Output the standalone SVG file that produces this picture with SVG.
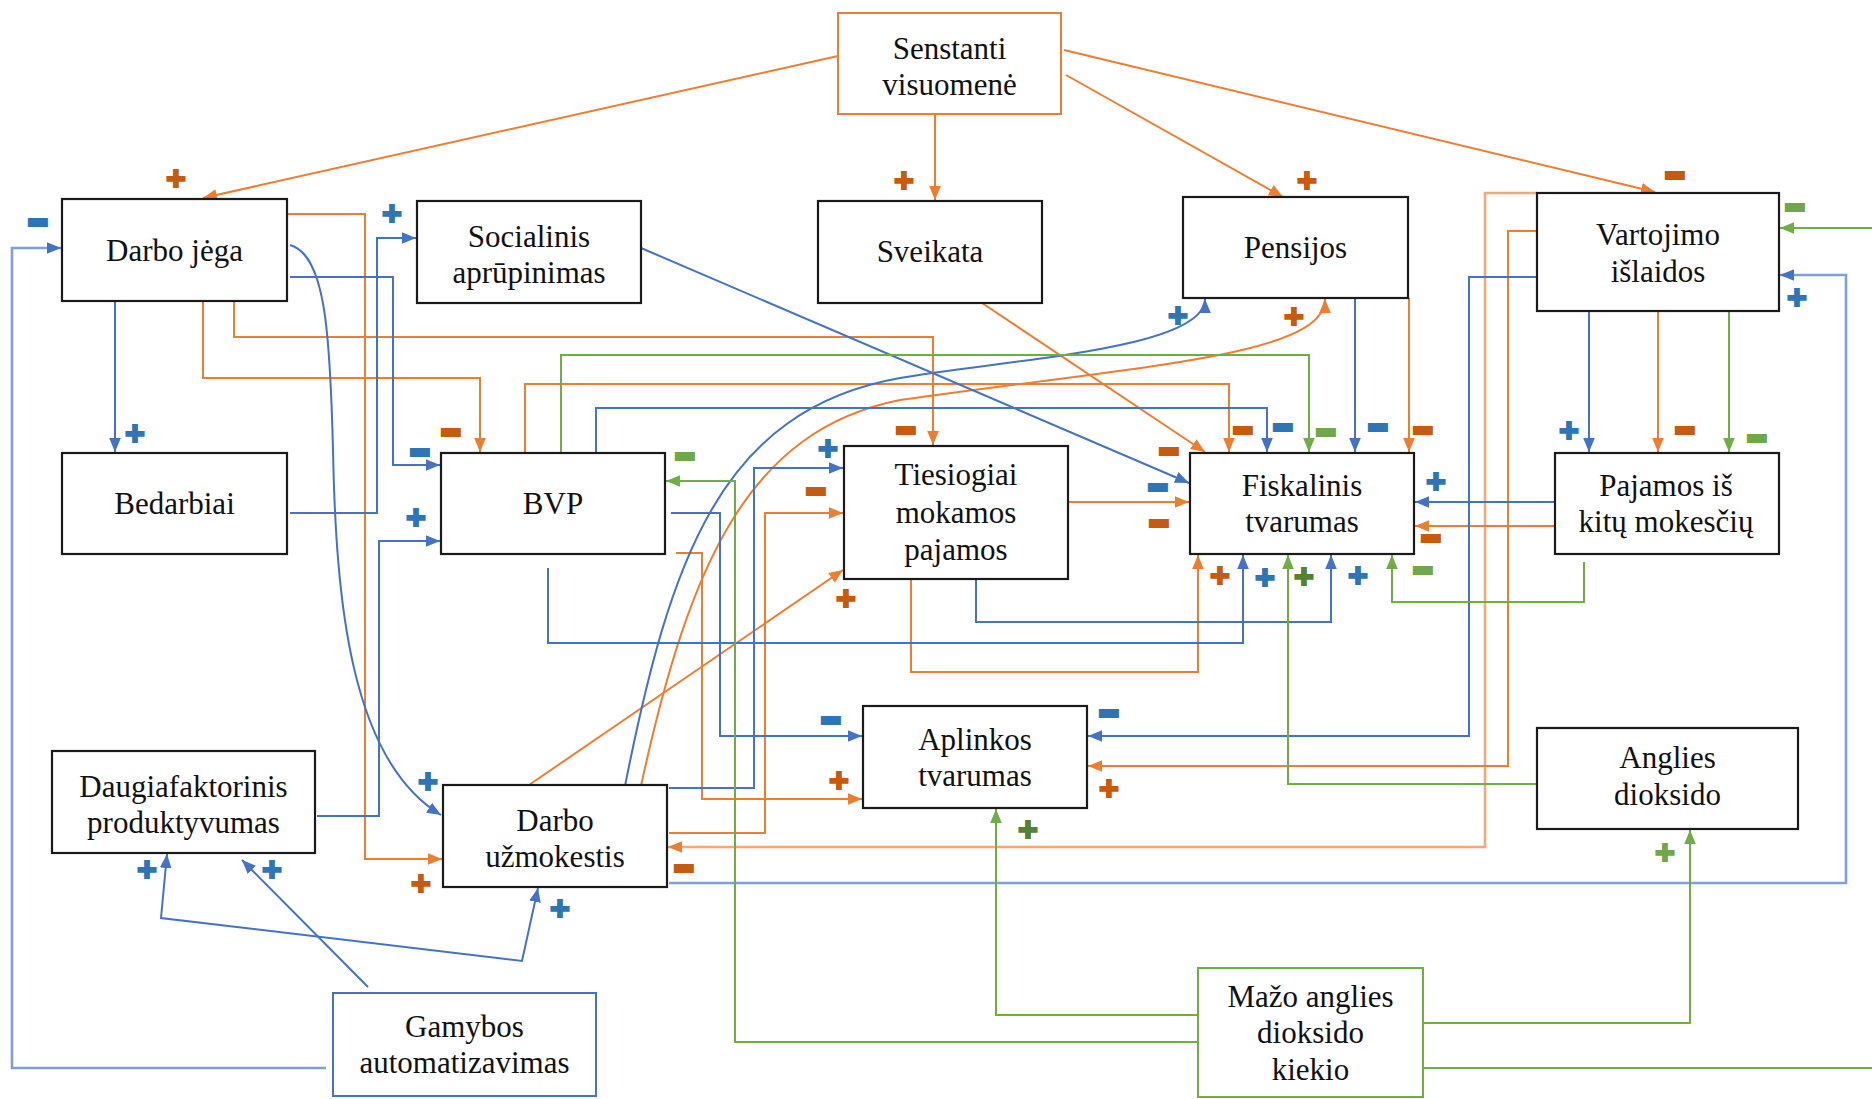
<svg xmlns="http://www.w3.org/2000/svg" width="1872" height="1099" viewBox="0 0 1872 1099">
  <style>
    .box { fill: #ffffff; stroke: #1a1a1a; stroke-width: 2.2; }
    .box-o { fill: #ffffff; stroke: #ED7D31; stroke-width: 2; }
    .box-b { fill: #ffffff; stroke: #4472C4; stroke-width: 2; }
    .box-g { fill: #ffffff; stroke: #70AD47; stroke-width: 2; }
    .lbl { font-family: "Liberation Serif", "Times New Roman", serif; font-size: 31px; fill: #111111; text-anchor: middle; }
    .c { fill: none; stroke-width: 2; stroke-linejoin: miter; }
    .o { stroke: #ED7D31; marker-end: url(#ah-o); }
    .o2 { stroke: #F4A777; stroke-width: 2.6; marker-end: url(#ah-o); }
    .b { stroke: #4472C4; marker-end: url(#ah-b); }
    .b2 { stroke: #7F9FD8; stroke-width: 2.6; marker-end: url(#ah-b); }
    .g { stroke: #70AD47; marker-end: url(#ah-g); }
    .sg { font-family: "Liberation Sans", Arial, sans-serif; font-weight: bold; text-anchor: middle; dominant-baseline: central; }
    .p { font-size: 34px; stroke-width: 2; }
    .m { font-size: 28px; stroke-width: 6; }
    .so { fill: #C55A11; stroke: #C55A11; }
    .sb { fill: #2E75B6; stroke: #2E75B6; }
    .sgr { fill: #548235; stroke: #548235; }
    .sgl { fill: #6FA84A; stroke: #6FA84A; }
  </style>
  <defs>
    <marker id="ah-o" viewBox="0 0 12 10" refX="12" refY="5" markerWidth="14" markerHeight="12" markerUnits="userSpaceOnUse" orient="auto-start-reverse">
      <path d="M0,0 L12,5 L0,10 z" fill="#ED7D31"/>
    </marker>
    <marker id="ah-b" viewBox="0 0 12 10" refX="12" refY="5" markerWidth="14" markerHeight="12" markerUnits="userSpaceOnUse" orient="auto-start-reverse">
      <path d="M0,0 L12,5 L0,10 z" fill="#4472C4"/>
    </marker>
    <marker id="ah-g" viewBox="0 0 12 10" refX="12" refY="5" markerWidth="14" markerHeight="12" markerUnits="userSpaceOnUse" orient="auto-start-reverse">
      <path d="M0,0 L12,5 L0,10 z" fill="#70AD47"/>
    </marker>
  </defs>

  <rect width="1872" height="1099" fill="#ffffff"/>

  <!-- connectors -->
  <g id="connectors">
    <!-- orange links -->
    <path class="c o" d="M838,56 L203,198"/>
    <path class="c o" d="M935,114 V200"/>
    <path class="c o" d="M1066,75 L1283,197"/>
    <path class="c o" d="M1064,50 L1655,192"/>
    <path class="c o" d="M203,301 V378 H480 V452"/>
    <path class="c o" d="M234,301 V337 H933 V445"/>
    <path class="c o" d="M283,214 H365 V859 H442"/>
    <path class="c o" d="M982,303 L1205,452"/>
    <path class="c o" d="M641,786 C690,560 750,430 900,400 C1150,365 1325,355 1325,299"/>
    <path class="c o" d="M525,452 V384 H1229 V452"/>
    <path class="c o" d="M1067,502 H1189"/>
    <path class="c o" d="M911,579 V672 H1198 V555"/>
    <path class="c o" d="M676,553 H702 V799 H862"/>
    <path class="c o" d="M669,833 H765 V513 H843"/>
    <path class="c o" d="M529,785 L843,570"/>
    <path class="c o2" d="M1537,193 H1485 V847 H668"/>
    <path class="c o" d="M1540,231 H1508 V766 H1088"/>
    <path class="c o" d="M1409,298 V452"/>
    <path class="c o" d="M1658,311 V452"/>
    <path class="c o" d="M1555,526 H1415"/>

    <!-- blue links -->
    <path class="c b" d="M115,301 V452"/>
    <path class="c b" d="M290,277 H393 V465 H440"/>
    <path class="c b" d="M290,245 C325,255 330,330 333,450 C336,600 350,760 441,815"/>
    <path class="c b" d="M290,513 H377 V238 H416"/>
    <path class="c b" d="M317,816 H379 V541 H440"/>
    <path class="c b" d="M641,248 L1189,483"/>
    <path class="c b" d="M625,786 C670,560 720,410 900,378 C1000,360 1205,350 1205,299"/>
    <path class="c b" d="M596,452 V408 H1267 V452"/>
    <path class="c b" d="M1355,298 V452"/>
    <path class="c b" d="M1589,311 V452"/>
    <path class="c b" d="M1555,502 H1415"/>
    <path class="c b" d="M976,573 V622 H1331 V555"/>
    <path class="c b" d="M548,568 V643 H1243 V555"/>
    <path class="c b" d="M671,513 H720 V736 H862"/>
    <path class="c b" d="M669,788 H754 V468 H843"/>
    <path class="c b" d="M1540,277 H1469 V736 H1088"/>
    <path class="c b2" d="M669,883 H1846 V275 H1780"/>
    <path class="c b2" d="M326,1068 H12 V248 H61"/>
    <path class="c b" d="M368,987 L242,860"/>
    <path class="c b" style="marker-start: url(#ah-b);" d="M167,854 L161,918 L522,961 L538,888"/>

    <!-- green links -->
    <path class="c g" d="M561,452 V355 H1309 V452"/>
    <path class="c g" d="M1729,311 V452"/>
    <path class="c g" d="M1584,562 V602 H1392 V555"/>
    <path class="c g" d="M1537,784 H1288 V555"/>
    <path class="c g" d="M1198,1042 H735 V481 H666"/>
    <path class="c g" d="M1424,1068 H1890 V228 H1780"/>
    <path class="c g" d="M1198,1015 H996 V809"/>
    <path class="c g" d="M1423,1023 H1690 V830"/>
  </g>

  <!-- polarity signs -->
  <g id="signs">
    <text class="sg p so" x="176" y="178">+</text>
    <text class="sg p so" x="904" y="180">+</text>
    <text class="sg p so" x="1307" y="180">+</text>
    <text class="sg p so" x="1294" y="316">+</text>
    <text class="sg p so" x="421" y="883">+</text>
    <text class="sg p so" x="839" y="780">+</text>
    <text class="sg p so" x="1109" y="788">+</text>
    <text class="sg p so" x="1220" y="575">+</text>
    <text class="sg p so" x="846" y="598">+</text>

    <text class="sg m so" x="1675" y="175">−</text>
    <text class="sg m so" x="451" y="432">−</text>
    <text class="sg m so" x="906" y="430">−</text>
    <text class="sg m so" x="1169" y="451">−</text>
    <text class="sg m so" x="1243" y="430">−</text>
    <text class="sg m so" x="1423" y="430">−</text>
    <text class="sg m so" x="1685" y="430">−</text>
    <text class="sg m so" x="1431" y="538">−</text>
    <text class="sg m so" x="1159" y="523">−</text>
    <text class="sg m so" x="816" y="491">−</text>
    <text class="sg m so" x="684" y="868">−</text>

    <text class="sg p sb" x="135" y="433">+</text>
    <text class="sg p sb" x="392" y="213">+</text>
    <text class="sg p sb" x="416" y="517">+</text>
    <text class="sg p sb" x="428" y="781">+</text>
    <text class="sg p sb" x="1178" y="315">+</text>
    <text class="sg p sb" x="828" y="448">+</text>
    <text class="sg p sb" x="1569" y="430">+</text>
    <text class="sg p sb" x="1436" y="481">+</text>
    <text class="sg p sb" x="1358" y="575">+</text>
    <text class="sg p sb" x="1265" y="577">+</text>
    <text class="sg p sb" x="1797" y="297">+</text>
    <text class="sg p sb" x="272" y="869">+</text>
    <text class="sg p sb" x="147" y="869">+</text>
    <text class="sg p sb" x="560" y="908">+</text>

    <text class="sg m sb" x="420" y="452">−</text>
    <text class="sg m sb" x="38" y="222">−</text>
    <text class="sg m sb" x="1158" y="487">−</text>
    <text class="sg m sb" x="1283" y="427">−</text>
    <text class="sg m sb" x="1378" y="427">−</text>
    <text class="sg m sb" x="831" y="720">−</text>
    <text class="sg m sb" x="1109" y="713">−</text>

    <text class="sg p sgr" x="1304" y="576">+</text>
    <text class="sg p sgr" x="1028" y="829">+</text>
    <text class="sg p sgl" x="1665" y="852">+</text>

    <text class="sg m sgl" x="685" y="456">−</text>
    <text class="sg m sgl" x="1326" y="432">−</text>
    <text class="sg m sgl" x="1757" y="438">−</text>
    <text class="sg m sgl" x="1423" y="570">−</text>
    <text class="sg m sgl" x="1795" y="207">−</text>
  </g>

  <!-- nodes -->
  <g id="n-senstanti">
    <rect class="box-o" x="838" y="13" width="223" height="101"/>
    <text class="lbl" x="949.5" y="59">Senstanti</text>
    <text class="lbl" x="949.5" y="95">visuomenė</text>
  </g>
  <g id="n-darbo-jega">
    <rect class="box" x="62" y="199" width="225" height="102"/>
    <text class="lbl" x="174.5" y="260.5">Darbo jėga</text>
  </g>
  <g id="n-socialinis">
    <rect class="box" x="417" y="201" width="224" height="102"/>
    <text class="lbl" x="529" y="247">Socialinis</text>
    <text class="lbl" x="529" y="283">aprūpinimas</text>
  </g>
  <g id="n-sveikata">
    <rect class="box" x="818" y="201" width="224" height="102"/>
    <text class="lbl" x="930" y="262">Sveikata</text>
  </g>
  <g id="n-pensijos">
    <rect class="box" x="1183" y="197" width="225" height="101"/>
    <text class="lbl" x="1295.5" y="258">Pensijos</text>
  </g>
  <g id="n-vartojimo">
    <rect class="box" x="1537" y="193" width="242" height="118"/>
    <text class="lbl" x="1658" y="245">Vartojimo</text>
    <text class="lbl" x="1658" y="282">išlaidos</text>
  </g>
  <g id="n-bedarbiai">
    <rect class="box" x="62" y="453" width="225" height="101"/>
    <text class="lbl" x="174.5" y="514">Bedarbiai</text>
  </g>
  <g id="n-bvp">
    <rect class="box" x="441" y="453" width="224" height="101"/>
    <text class="lbl" x="553" y="514">BVP</text>
  </g>
  <g id="n-tiesiogiai">
    <rect class="box" x="844" y="446" width="224" height="133"/>
    <text class="lbl" x="956" y="485">Tiesiogiai</text>
    <text class="lbl" x="956" y="522.5">mokamos</text>
    <text class="lbl" x="956" y="560">pajamos</text>
  </g>
  <g id="n-fiskalinis">
    <rect class="box" x="1190" y="453" width="224" height="101"/>
    <text class="lbl" x="1302" y="496">Fiskalinis</text>
    <text class="lbl" x="1302" y="532">tvarumas</text>
  </g>
  <g id="n-pajamos">
    <rect class="box" x="1555" y="453" width="224" height="101"/>
    <text class="lbl" x="1666" y="496">Pajamos iš</text>
    <text class="lbl" x="1666" y="532">kitų mokesčių</text>
  </g>
  <g id="n-aplinkos">
    <rect class="box" x="863" y="706" width="224" height="102"/>
    <text class="lbl" x="975" y="750">Aplinkos</text>
    <text class="lbl" x="975" y="786">tvarumas</text>
  </g>
  <g id="n-anglies">
    <rect class="box" x="1537" y="728" width="261" height="101"/>
    <text class="lbl" x="1667.5" y="768">Anglies</text>
    <text class="lbl" x="1667.5" y="805">dioksido</text>
  </g>
  <g id="n-daugiafaktorinis">
    <rect class="box" x="52" y="751" width="263" height="102"/>
    <text class="lbl" x="183.5" y="797">Daugiafaktorinis</text>
    <text class="lbl" x="183.5" y="833">produktyvumas</text>
  </g>
  <g id="n-darbo-uzmokestis">
    <rect class="box" x="443" y="785" width="224" height="102"/>
    <text class="lbl" x="555" y="831">Darbo</text>
    <text class="lbl" x="555" y="867">užmokestis</text>
  </g>
  <g id="n-gamybos">
    <rect class="box-b" x="333" y="993" width="263" height="103"/>
    <text class="lbl" x="464.5" y="1037">Gamybos</text>
    <text class="lbl" x="464.5" y="1073">automatizavimas</text>
  </g>
  <g id="n-mazo">
    <rect class="box-g" x="1198" y="968" width="225" height="129"/>
    <text class="lbl" x="1310.5" y="1007">Mažo anglies</text>
    <text class="lbl" x="1310.5" y="1043">dioksido</text>
    <text class="lbl" x="1310.5" y="1080">kiekio</text>
  </g>
</svg>
